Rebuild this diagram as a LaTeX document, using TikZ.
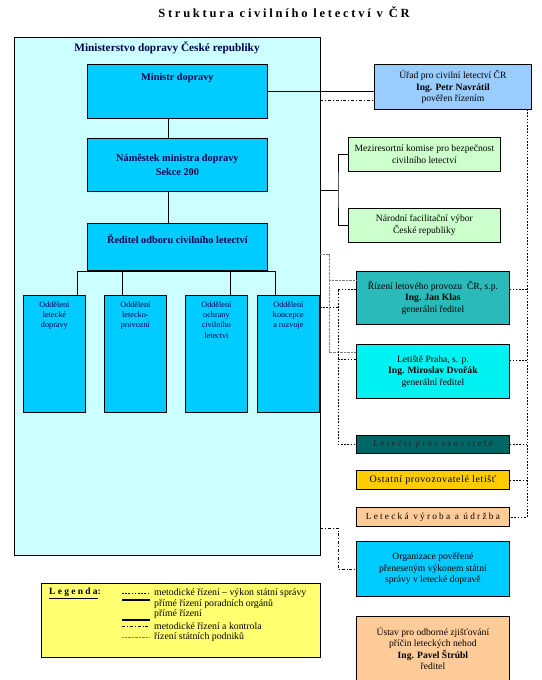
\documentclass[tikz,border=0pt]{standalone}
\usepackage{fontspec}
\setmainfont{Liberation Serif}
\newfontfamily\titlefont[LetterSpace=22]{Liberation Serif}
\newfontfamily\spacedfont[LetterSpace=24]{Liberation Serif}
\newfontfamily\widefont[LetterSpace=6]{Liberation Serif}
\usepackage{tikz}
\usetikzlibrary{positioning,calc}

\definecolor{mdcrcyan}{HTML}{CCFFFF}
\definecolor{minblue}{HTML}{00CCFF}
\definecolor{uradblue}{HTML}{99CCFF}
\definecolor{poradgreen}{HTML}{CCFFCC}
\definecolor{rlpteal}{HTML}{2BBABA}
\definecolor{letcyan}{HTML}{00F2F2}
\definecolor{darkteal}{HTML}{006666}
\definecolor{goldbox}{HTML}{FFCC00}
\definecolor{peach}{HTML}{FFCC99}
\definecolor{legyellow}{HTML}{FFFF70}
\definecolor{textnavy}{HTML}{000050}

\tikzset{
box/.style={
draw=black,
line width=0.8pt,
inner sep=2pt,
align=center
},
minbox/.style={
box,
fill=minblue,
minimum width=180pt
},
mintext/.style={
font=\fontsize{10.3}{14}\selectfont\bfseries,
text=textnavy,
align=center,
anchor=north
},
oddbox/.style={
box,
fill=minblue,
minimum width=62pt,
minimum height=117pt,
anchor=north west
},
oddtext/.style={
font=\fontsize{8.2}{10.3}\selectfont,
text=textnavy,
align=center,
anchor=north
},
rightbox/.style={
box,
fill=#1,
minimum width=153pt,
font=\fontsize{9.6}{11.5}\selectfont,
anchor=north west
},
metod/.style={
line width=1pt,
dash pattern=on 1.6pt off 1.6pt
},
poradni/.style={
line width=0.9pt
},
primeline/.style={
line width=0.9pt
},
kontrola/.style={
line width=0.7pt,
dash pattern=on 3pt off 2pt on 0.8pt off 2pt
},
podniky/.style={
line width=0.5pt,
gray,
dash pattern=on 0.7pt off 0.7pt
},
legthick/.style={
line width=1.6pt
}
}

\begin{document}
\begin{tikzpicture}[x=1pt,y=-1pt]
\useasboundingbox (0,0) rectangle (541,680);

\node[font=\fontsize{12.5}{14}\selectfont\bfseries\titlefont](title) at (284,12){Struktura civilního letectví v ČR};

% ministerstvo
\node[draw=black,line width=0.8pt,fill=mdcrcyan,minimum width=306pt,minimum height=518pt,anchor=north west,inner sep=0](mdcr) at (14,37){};
\node[font=\fontsize{11.3}{13}\selectfont\bfseries,text=textnavy](mdcrname) at (167,48){Ministerstvo dopravy České republiky};

\node[minbox,minimum height=54pt,anchor=north west,
label={[mintext,yshift=-6pt]north:Ministr dopravy}](ministr) at (87,64){};
\node[minbox,minimum height=53pt,below=19pt of ministr,
font=\fontsize{10.3}{14.5}\selectfont\bfseries,text=textnavy](namestek){Náměstek ministra dopravy\\Sekce 200};
\node[minbox,minimum height=47pt,below=31pt of namestek,
label={[mintext,yshift=-8pt]north:Ředitel odboru civilního letectví}](reditel){};

\foreach \n/\x/\t in {odd1/23/{Oddělení\\letecké\\dopravy},
odd2/104/{Oddělení\\letecko-\\provozní},
odd3/185/{Oddělení\\ochrany\\civilního\\letectví},
odd4/257/{Oddělení\\koncepce\\a rozvoje}}
\node[oddbox,label={[oddtext,yshift=-3pt]north:\t}](\n) at (\x,295){};

% spine and bus
\coordinate (spine) at (168,0);
\coordinate (bus1) at (77,271);
\coordinate (bus2) at (122,271);
\coordinate (bus3) at (230,271);
\coordinate (bus4) at (275,271);

\draw[primeline](ministr.south -| spine)--(namestek.north -| spine);
\draw[primeline](namestek.south -| spine)--(reditel.north -| spine);
\draw[primeline](reditel.south -| spine)--(spine |- bus1);
\draw[primeline](bus1)--(bus4);
\foreach \b/\o in {bus1/odd1,bus2/odd2,bus3/odd3,bus4/odd4}
\draw[primeline](\b)--(\b |- \o.north);

% right column
\node[rightbox=uradblue,minimum width=157pt,minimum height=45pt](urad) at (374,64)
{Úřad pro civilní letectví ČR\\\textbf{Ing. Petr Navrátil}\\pověřen řízením};
\node[rightbox=poradgreen,minimum width=152pt,minimum height=34pt](mezi) at (348,137)
{Meziresortní komise pro bezpečnost\\civilního letectví};
\node[rightbox=poradgreen,minimum width=152pt,minimum height=34pt,below=36pt of mezi](narodni)
{Národní facilitační výbor\\České republiky};
\node[rightbox=rlpteal,minimum height=53pt](rlp) at (356,271)
{Řízení letového provozu~~ČR, s.p.\\\textbf{Ing. Jan Klas}\\generální ředitel};
\node[rightbox=letcyan,minimum height=54pt,below=19pt of rlp](letiste)
{Letiště Praha, s. p.\\\textbf{Ing. Miroslav Dvořák}\\generální ředitel};
\node[rightbox=darkteal,minimum height=18pt,below=36pt of letiste,text=black!85,
font=\fontsize{9}{10}\selectfont\spacedfont](letecti){Letečtí provozovatelé};
\node[rightbox=goldbox,minimum height=19pt,below=17pt of letecti,
font=\fontsize{10}{11}\selectfont\widefont](ostatni){Ostatní provozovatelé letišť};
\node[rightbox=peach,minimum height=19pt,below=17pt of ostatni,
font=\fontsize{9.3}{10}\selectfont\spacedfont](letecka){Letecká výroba a údržba};
\node[rightbox=minblue,minimum height=55pt,below=14pt of letecka](organizace)
{Organizace pověřené\\přeneseným výkonem státní\\správy v letecké dopravě};
\node[rightbox=peach,minimum height=64pt,below=19pt of organizace](ustav)
{Ústav pro odborné zjišťování\\příčin leteckých nehod\\\textbf{Ing. Pavel Štrúbl}\\ředitel};

% connectors to the right
\coordinate (kA) at (320,100);
\coordinate (kB) at (320,528);
\coordinate (pA) at (320,190);
\coordinate (pB) at (338,190);
\coordinate (sA) at (320,254);
\coordinate (sB) at (329,280);
\coordinate (sC) at (329,352);
\coordinate (mA) at (320,307);
\coordinate (m1) at (338,289);
\coordinate (m2) at (338,359);
\coordinate (rtop) at (527,109);
\coordinate (r1) at (527,289);
\coordinate (r2) at (527,360);

\draw[primeline](ministr.east)--(ministr.east -| urad.west);
\draw[kontrola](kA)--(kA -| urad.west);

\draw[poradni](pA)--(pB);
\draw[poradni](mezi.west) -| (pB) |- (narodni.west);

\draw[podniky](sA) -| (sC)--(sC -| letiste.west);
\draw[podniky](sB)--(sB -| rlp.west);

\draw[metod](mA)--(mA -| m1);
\draw[metod](m1 -| rlp.west)--(m1) |- (letecti.west);
\draw[metod](m2)--(m2 -| letiste.west);

\draw[metod](rtop) |- (letecka.east);
\draw[metod](r1)--(r1 -| rlp.east);
\draw[metod](r2)--(r2 -| letiste.east);
\foreach \n in {letecti,ostatni}
\draw[metod](\n.east)--(\n.east -| rtop);

\draw[kontrola](kB)--++(18,0) |- (organizace.west);

% legenda
\node[draw=black,line width=0.8pt,fill=legyellow,minimum width=279pt,minimum height=74pt,anchor=north west](legenda) at (41,583){};
\node[anchor=west,font=\fontsize{9.5}{10}\selectfont\bfseries\spacedfont,inner sep=0](legtitle) at (49,593){\underline{Legenda}:};
\foreach \ly/\ty/\s/\t in {593/593/metod/{metodické řízení – výkon státní správy},
600/604/legthick/{přímé řízení poradních orgánů},
620/614/legthick/{přímé řízení},
626/626/kontrola/{metodické řízení a kontrola},
637/637/podniky/{řízení státních podniků}}
{
\draw[\s](122,\ly)--(150,\ly);
\node[anchor=west,inner sep=0,font=\fontsize{9.8}{10}\selectfont] at (154,\ty){\t};
}
\end{tikzpicture}
\end{document}
